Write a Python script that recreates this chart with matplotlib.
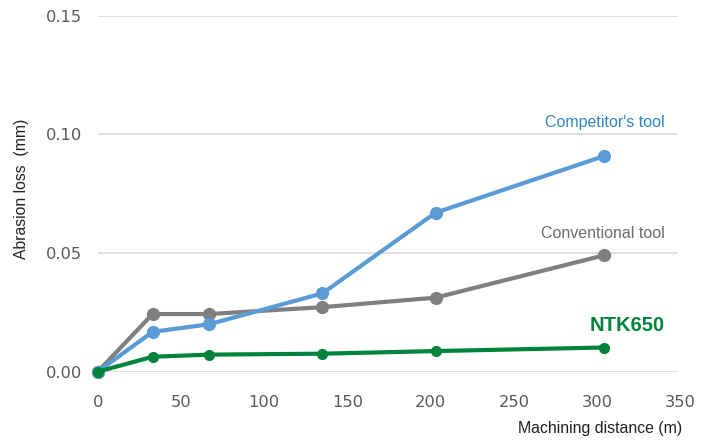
import matplotlib
matplotlib.use("Agg")
import matplotlib.pyplot as plt

distance = [0, 33, 67, 135, 203, 304]
competitor = [0.0, 0.0168, 0.0200, 0.0330, 0.0670, 0.0908]
conventional = [0.0, 0.0243, 0.0243, 0.0272, 0.0312, 0.0490]
ntk650 = [0.0, 0.0063, 0.0072, 0.0076, 0.0087, 0.0102]

x_ticks = [0, 50, 100, 150, 200, 250, 300, 350]
y_ticks = [0.00, 0.05, 0.10, 0.15]
y_ticklabels = ["0.00", "0.05", "0.10", "0.15"]

c_blue = "#5b9bd5"
c_gray = "#7f7f80"
c_green = "#00843d"

fig = plt.figure(figsize=(7.13, 4.42), dpi=100)
ax = fig.add_axes([0.137, 0.159, 0.817, 0.8055])

ax.set_xlim(0, 350)
ax.set_ylim(0, 0.15)
ax.set_xticks(x_ticks)
ax.set_yticks(y_ticks)
ax.set_yticklabels(y_ticklabels)
for s in ax.spines.values():
    s.set_visible(False)
ax.tick_params(length=0, colors="#595959", labelsize=11.7)
ax.tick_params(axis="y", pad=11)
ax.tick_params(axis="x", pad=17)
for yv in y_ticks:
    ax.axhline(yv, xmin=0, xmax=0.994, color="#d9d9d9", linewidth=1.2, zorder=1)

ax.plot(distance, conventional, color=c_gray, lw=3, marker="o", ms=8.5, clip_on=False, zorder=3)
ax.plot(distance, competitor, color=c_blue, lw=3, marker="o", ms=8.5, clip_on=False, zorder=4)
ax.plot(distance, ntk650, color=c_green, lw=3, marker="o", ms=7, clip_on=False, zorder=5)

lab_font = "Liberation Sans"
tr = ax.get_yaxis_transform()
ax.text(0.974, 0.1052, "Competitor's tool", color="#2f86c8", fontsize=11.5,
        family=lab_font, ha="right", va="center", transform=tr)
ax.text(0.974, 0.0584, "Conventional tool", color="#6d6d6d", fontsize=11.5,
        family=lab_font, ha="right", va="center", transform=tr)
ax.text(0.974, 0.0193, "NTK650", color=c_green, fontsize=14.5, fontweight="bold",
        family=lab_font, ha="right", va="center", transform=tr)

fig.text(22 / 713, 1 - 189 / 442, "Abrasion loss  (mm)", rotation=90, ha="center", va="center",
         fontsize=11.3, family=lab_font, color="#222222")
fig.text(682 / 713, 1 - 429 / 442, "Machining distance (m)", ha="right", va="center",
         fontsize=11.4, family=lab_font, color="#222222")

fig.savefig("out.png", dpi=100)
